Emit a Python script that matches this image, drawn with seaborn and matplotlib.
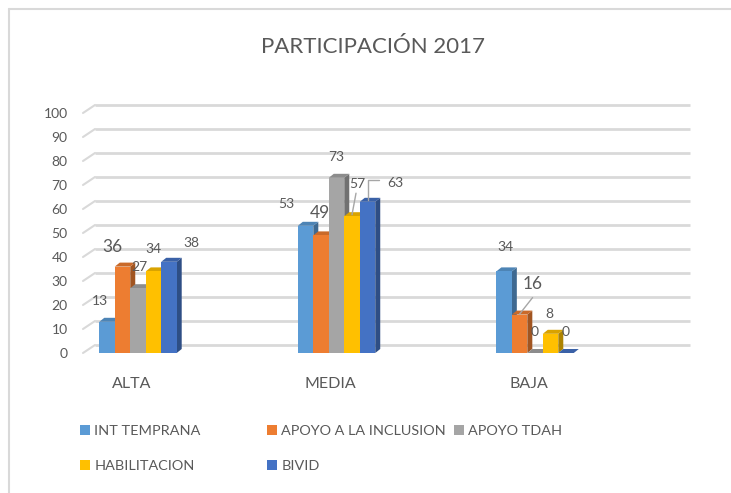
import matplotlib.pyplot as plt
import matplotlib.transforms as mtransforms
from matplotlib.patches import Polygon, Rectangle
from matplotlib.colors import to_rgb
import pandas as pd
import seaborn as sns

# data
categories = ['ALTA', 'MEDIA', 'BAJA']
series = ['INT TEMPRANA', 'APOYO A LA INCLUSION', 'APOYO TDAH', 'HABILITACION', 'BIVID']
int_temprana = [13, 53, 34]
apoyo_inclusion = [36, 49, 16]
apoyo_tdah = [27, 73, 0]
habilitacion = [34, 57, 8]
bivid = [38, 63, 0]
yticks = list(range(0, 101, 10))

colors = ['#5B9BD5', '#ED7D31', '#A5A5A5', '#FFC000', '#4472C4']
txt = '#595959'
grid_c = '#d9d9d9'

df = pd.DataFrame({
    'cat': categories * 5,
    'serie': sum([[s] * 3 for s in series], []),
    'value': int_temprana + apoyo_inclusion + apoyo_tdah + habilitacion + bivid,
})

sns.set_theme(style='white')
plt.rcParams['font.family'] = ['Lato', 'DejaVu Sans']

W, H = 731, 493
fig = plt.figure(figsize=(W / 100, H / 100), dpi=100)
# axes in pixel terms: front face 83..678 px, value 0 at 353 px, 100 at 113 px
ax = fig.add_axes([83 / W, 1 - 353 / H, (678 - 83) / W, (353 - 113) / H])

sns.barplot(data=df, x='cat', y='value', hue='serie', hue_order=series,
            palette=colors, width=0.39, saturation=1, ax=ax, legend=False,
            linewidth=0, zorder=5)
ax.set_xlim(-0.277, 2.72)
ax.set_ylim(0, 100)

for s in ax.spines.values():
    s.set_visible(False)
ax.set_xlabel('')
ax.set_ylabel('')
ax.set_yticks(yticks)
ax.tick_params(axis='y', length=0, pad=11, labelsize=10, labelcolor=txt)
ax.tick_params(axis='x', length=0, pad=17, labelsize=11.5, labelcolor=txt)
shift = mtransforms.ScaledTranslation(-6 / 100, 0, fig.dpi_scale_trans)
for lab in ax.get_xticklabels():
    lab.set_transform(lab.get_transform() + shift)

# pixel -> data conversions
px_x = (2.72 + 0.277) / (678 - 83)
px_y = 100 / (353 - 113)

# back wall gridlines with the slanted floor edge on the left
gdx, gdy = 12 * px_x, 8 * px_y
x0, x1 = ax.get_xlim()
for t in yticks:
    ax.plot([x0 + gdx, x1 + gdx], [t + gdy, t + gdy], color=grid_c, lw=2,
            clip_on=False, zorder=1, solid_capstyle='butt')
    ax.plot([x0, x0 + gdx], [t, t + gdy], color=grid_c, lw=1.5,
            clip_on=False, zorder=1)

# fake 3d depth on every bar
ddx, ddy = 5 * px_x, 4 * px_y
for i, bars in enumerate(ax.containers):
    base = to_rgb(colors[i])
    side = tuple(c * 0.68 for c in base)
    top = tuple(c * 0.85 for c in base)
    for b in bars:
        xl, w, h = b.get_x(), b.get_width(), b.get_height()
        z = 5 + i * 3
        b.set_zorder(z)
        ax.add_patch(Polygon([(xl + w, 0), (xl + w + ddx, ddy), (xl + w + ddx, h + ddy), (xl + w, h)],
                             closed=True, fc=side, lw=0, zorder=z - 1))
        ax.add_patch(Polygon([(xl, h), (xl + ddx, h + ddy), (xl + w + ddx, h + ddy), (xl + w, h)],
                             closed=True, fc=top, lw=0, zorder=z - 1))

# data labels (offsets in pixels from the bar top, matching the picture)
offsets = {
    (0, 0): (-7, 21), (1, 0): (-10, 20), (2, 0): (1, 21), (3, 0): (0, 22), (4, 0): (22, 19),
    (0, 1): (-19, 22), (1, 1): (-1, 22), (2, 1): (0, 21), (3, 1): (5, 32), (4, 1): (28, 19),
    (0, 2): (1, 24), (1, 2): (13, 31), (2, 2): (0, 21), (3, 2): (-1, 20), (4, 2): (0, 21),
}
big = {(1, 0), (1, 1), (1, 2)}
for i, bars in enumerate(ax.containers):
    for j, b in enumerate(bars):
        cx = b.get_x() + b.get_width() / 2
        h = b.get_height()
        dx, dy = offsets[(i, j)]
        ax.text(cx + dx * px_x, h + dy * px_y, f'{h:.0f}', ha='center', va='center',
                fontsize=12.5 if (i, j) in big else 10, color=txt, zorder=40)

# leader lines for the labels pushed away from their bars
b57 = ax.containers[3][1]
c57 = b57.get_x() + b57.get_width() / 2
ax.plot([c57, c57 + 4 * px_x], [57 + 1.5 * px_y, 57 + 23 * px_y], color='#a6a6a6', lw=1, zorder=41)
b63 = ax.containers[4][1]
c63 = b63.get_x() + b63.get_width() / 2
ax.plot([c63 + 1 * px_x, c63 + 1 * px_x, c63 + 12 * px_x], [63 + 1.5 * px_y, 63 + 22 * px_y, 63 + 22 * px_y],
        color='#a6a6a6', lw=1, zorder=41)
b16 = ax.containers[1][2]
c16 = b16.get_x() + b16.get_width() / 2
ax.plot([c16, c16 + 13 * px_x], [16 + 0.5 * px_y, 16 + 17 * px_y], color='#a6a6a6', lw=1, zorder=41)

# title
fig.text(373 / W, 1 - 47 / H, 'PARTICIPACIÓN 2017', ha='center', va='center',
         fontsize=16, color=txt)

# legend laid out as three fixed columns like excel
handles = [Rectangle((0, 0), 1, 1, fc=c, lw=0) for c in colors]
cols = [([0, 3], 80), ([1, 4], 267), ([2], 454)]
for idx, xpx in cols:
    fig.legend([handles[k] for k in idx], [series[k] for k in idx],
               loc='upper left', bbox_to_anchor=(xpx / W, 1 - 425 / H),
               frameon=False, fontsize=10.4, labelcolor=txt, labelspacing=1.6,
               handlelength=0.7, handleheight=0.7, handletextpad=0.3,
               borderpad=0, borderaxespad=0)

# outer chart border
fig.add_artist(plt.Line2D([9 / W, 9 / W], [0, 1 - 9 / H], color=grid_c, lw=1.5))
fig.add_artist(plt.Line2D([9 / W, 1], [1 - 9 / H, 1 - 9 / H], color=grid_c, lw=1.5))

fig.savefig('out.png', dpi=100, facecolor='white')
